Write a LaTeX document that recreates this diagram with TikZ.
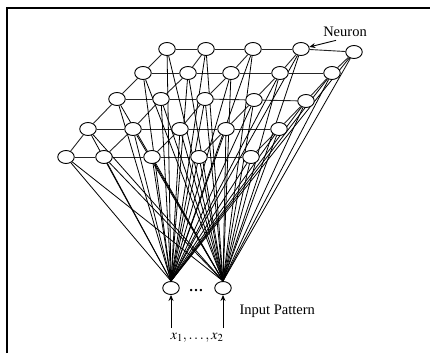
\documentclass[tikz,border=0pt]{standalone}
\usepackage{mathptmx}
\usepackage{fontspec}
\setmainfont{Liberation Serif}
\usetikzlibrary{shapes.geometric}
\usetikzlibrary{arrows.meta}

\pgfdeclarelayer{back}
\pgfsetlayers{back,main}

\begin{document}
\begin{tikzpicture}[x=1pt,y=-1pt,
  neuron/.style={ellipse,draw,line width=0.9pt,fill=white,minimum width=16.5pt,minimum height=13pt,inner sep=0pt},
  link/.style={line width=0.9pt,black!85},
  fan/.style={line width=0.8pt},
  lbl/.style={font=\fontsize{14.5}{17}\selectfont}]
\useasboundingbox (0,0) rectangle (430,353);
\draw [line width=2.2pt] (7,353) -- (7,8) -- (430,8);

\foreach \row [count=\r] in {
  {167/49,206/49,253/49,301/49,354/52},
  {143/73,188/73,231/73,280/73,332/73},
  {117/99,161/99,205/99,254/100,306/101},
  {88/129,133/129,180/129,226/129,279/129},
  {66/157,104/157,152/157,199/157,251/157}}
  \foreach \x/\y [count=\c] in \row
    \node [neuron] (n-\r-\c) at (\x,\y) {};

\node [neuron] (in-1) at (171,288) {};
\node [neuron] (in-2) at (223,288) {};
\node [lbl, anchor=base] (dots) at (196,291) {\bfseries\ldots};

\begin{pgfonlayer}{back}
\foreach \r in {1,...,5}
  \foreach \c [count=\d] in {2,...,5}
    \draw [link] (n-\r-\d) -- (n-\r-\c);
\foreach \r [count=\s] in {2,...,5}
  \foreach \c in {1,...,5}
    \draw [link] (n-\r-\c) -- (n-\s-\c);
\foreach \r in {1,...,5}
  \foreach \c in {1,...,5}
    \draw [fan] (n-\r-\c) -- (in-1.north) (n-\r-\c) -- (in-2.north);
\end{pgfonlayer}

\coordinate (x-1) at (171,328);
\coordinate (x-2) at (223,328);
\draw [-{Stealth[length=6pt,width=5pt]}, line width=0.9pt] (x-1) -- (in-1);
\draw [-{Stealth[length=6pt,width=5pt]}, line width=0.9pt] (x-2) -- (in-2);

\node [lbl] (inputs) at (197,338) {$x_1,\ldots,x_2$};
\node [lbl, anchor=west] (pattern) at (236,311) {Input Pattern};
\node [lbl] (neuron-lbl) at (345,32) {Neuron};
\draw [-{Stealth[length=6pt,width=5pt]}, line width=0.9pt] ([xshift=-9pt]neuron-lbl.south) -- (n-1-4);
\end{tikzpicture}
\end{document}
